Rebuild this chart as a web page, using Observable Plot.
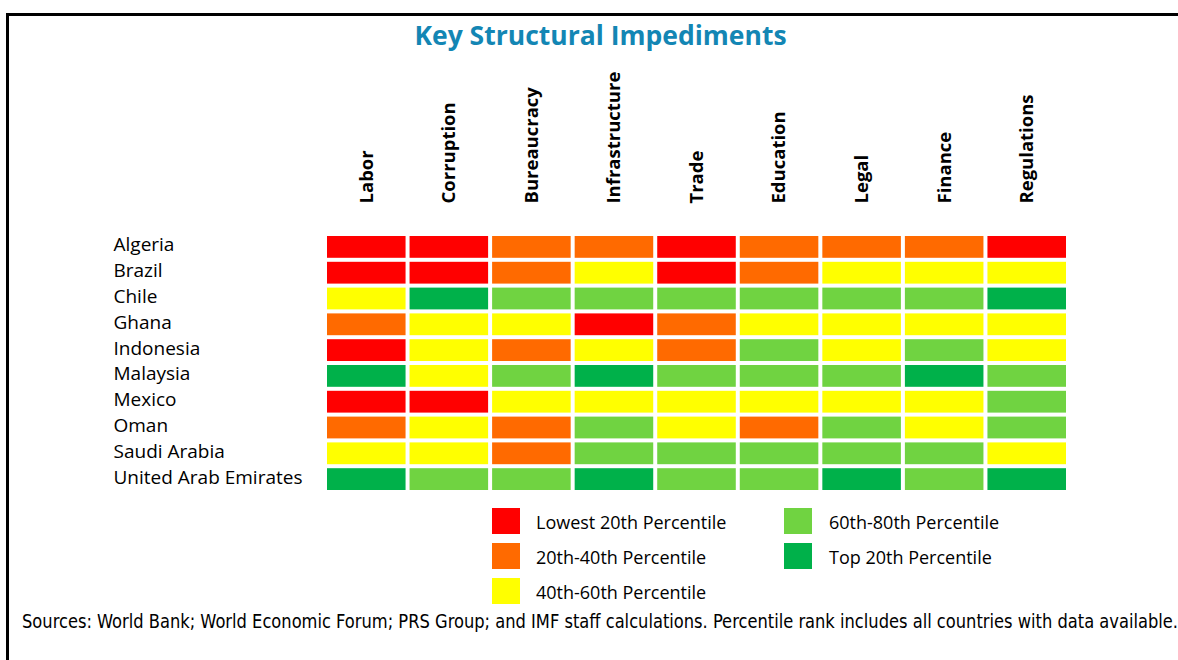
<!DOCTYPE html>
<html><head><meta charset="utf-8">
<script src="https://cdn.jsdelivr.net/npm/d3@7"></script>
<script src="https://cdn.jsdelivr.net/npm/@observablehq/plot@0.6"></script>
<style>
body{margin:0;background:#fff;}
#wrap{position:relative;width:1178px;height:660px;overflow:hidden;font-family:"Open Sans","Noto Sans",sans-serif;color:#000;}
#frame{position:absolute;left:6px;top:13px;width:1300px;height:800px;border:3px solid #000;box-sizing:border-box;}
#title{position:absolute;top:17px;left:0;width:1201px;text-align:center;font-size:26.5px;font-weight:bold;color:#1386b4;white-space:nowrap;}
#chart{position:absolute;left:0;top:0;}
.sw{position:absolute;width:28px;height:26px;}
.lb{position:absolute;font-size:18px;white-space:nowrap;line-height:26px;}
#foot{position:absolute;left:22px;top:610px;font-size:19px;white-space:nowrap;transform-origin:0 0;font-family:"Liberation Sans Narrow","DejaVu Sans Condensed",sans-serif;}
</style></head>
<body><div id="wrap"><div id="frame"></div><div id="title">Key Structural Impediments</div><div id="chart"></div><div id="legend"></div><div id="foot">Sources: World Bank; World Economic Forum; PRS Group; and IMF staff calculations. Percentile rank includes all countries with data available.</div></div>
<script>
const categories = ["Labor","Corruption","Bureaucracy","Infrastructure","Trade","Education","Legal","Finance","Regulations"];
const countries = ["Algeria","Brazil","Chile","Ghana","Indonesia","Malaysia","Mexico","Oman","Saudi Arabia","United Arab Emirates"];
const levels = [1,2,3,4,5];
const levelLabels = ["Lowest 20th Percentile","20th-40th Percentile","40th-60th Percentile","60th-80th Percentile","Top 20th Percentile"];
const levelColors = ["#ff0000","#ff6a00","#ffff00","#70d341","#00b14a"];
// percentile quintile (1 = lowest 20th ... 5 = top 20th), in category order
const algeria   = [1,1,2,2,1,2,2,2,1];
const brazil    = [1,1,2,3,1,2,3,3,3];
const chile     = [3,5,4,4,4,4,4,4,5];
const ghana     = [2,3,3,1,2,3,3,3,3];
const indonesia = [1,3,2,3,2,4,3,4,3];
const malaysia  = [5,3,4,5,4,4,4,5,4];
const mexico    = [1,1,3,3,3,3,3,3,4];
const oman      = [2,3,2,4,3,2,4,3,4];
const saudi     = [3,3,2,4,4,4,4,4,3];
const uae       = [5,4,4,5,4,4,5,4,5];
const rows = [algeria,brazil,chile,ghana,indonesia,malaysia,mexico,oman,saudi,uae];

const data = [];
rows.forEach((r,i)=>r.forEach((v,j)=>data.push({country:countries[i],category:categories[j],level:v})));

const chart = Plot.plot({
  width:1178, height:500,
  marginTop:234, marginLeft:325, marginRight:110, marginBottom:8,
  x:{domain:categories, padding:0, round:false, axis:null},
  y:{domain:countries, padding:0, round:false, axis:null},
  color:{type:"ordinal", domain:levels, range:levelColors},
  style:{fontFamily:"'Open Sans','Noto Sans',sans-serif", color:"#000", background:"transparent"},
  marks:[
    Plot.cell(data,{x:"category",y:"country",fill:"level",inset:2}),
    Plot.axisX({anchor:"top", tickSize:0, tickRotate:-90, tickPadding:31, fontSize:18.5, fontWeight:"bold", label:null}),
    Plot.text(countries,{y:d=>d, frameAnchor:"left", dx:-212, dy:-2, textAnchor:"start", fontSize:19})
  ]
});
document.getElementById("chart").appendChild(chart);

const legend = document.getElementById("legend");
const pos = [[492,508],[492,543],[492,578],[784,508],[784,543]];
levels.forEach((l,i)=>{
  const s=document.createElement("div");s.className="sw";s.style.left=pos[i][0]+"px";s.style.top=pos[i][1]+"px";s.style.background=levelColors[i];legend.appendChild(s);
  const t=document.createElement("div");t.className="lb";t.style.left=(pos[i][0]+(i<3?44:45))+"px";t.style.top=(pos[i][1]+1)+"px";t.textContent=levelLabels[i];legend.appendChild(t);
});
const foot=document.getElementById("foot");
const w=foot.getBoundingClientRect().width;
foot.style.transform="scaleX("+(1156/w)+")";
</script></body></html>
